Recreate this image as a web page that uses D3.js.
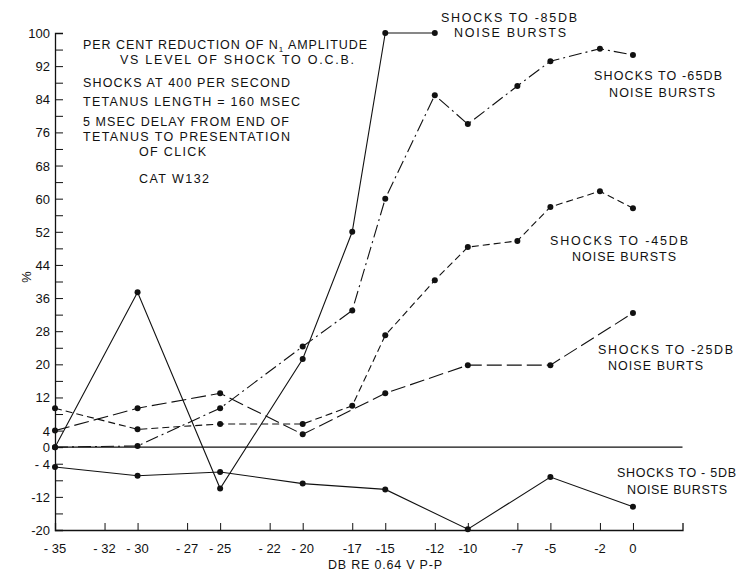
<!DOCTYPE html>
<html><head><meta charset="utf-8">
<script src="https://cdn.jsdelivr.net/npm/d3@7"></script>
<style>body{margin:0;background:#fff}svg{display:block}text{font-family:"Liberation Sans",Arial,sans-serif;fill:#111}</style>
</head><body>
<div id="chart"></div>
<script>
// ---- data ----
const xTicks = [-35,-32,-30,-27,-25,-22,-20,-17,-15,-12,-10,-7,-5,-2,0];
const xTickLabels = ["- 35","- 32","- 30","- 27","- 25","- 22","- 20","-17","-15","-12","-10","-7","-5","-2","0"];
const yTicks = [100,92,84,76,68,60,52,44,36,28,20,12,4,0,-4,-12,-20];
const yTickLabels = ["100","92","84","76","68","60","52","44","36","28","20","12","4","0","- 4","-12","-20"];

const x85 = [-35,-30,-25,-20,-17,-15,-12];
const y85 = [0,37.4,-10,21.3,52,100,100];
const x65 = [-35,-30,-25,-20,-17,-15,-12,-10,-7,-5,-2,0];
const y65 = [0,0.3,9.4,24.3,33,60,85,78,87.2,93.2,96.2,94.7];
const x45 = [-35,-30,-25,-20,-17,-15,-12,-10,-7,-5,-2,0];
const y45 = [9.4,4.3,5.6,5.6,10,27,40.3,48.3,49.8,58,61.8,57.7];
const x25 = [-35,-30,-25,-20,-15,-10,-5,0];
const y25 = [4,9.4,13,3.1,13,19.8,19.8,32.4];
const x5 = [-35,-30,-25,-20,-15,-10,-5,0];
const y5 = [-4.8,-6.9,-6,-8.8,-10.2,-19.8,-7.2,-14.4];

const seriesNames = ["-85DB","-65DB","-45DB","-25DB","-5DB"];

const notes = [
  "PER CENT REDUCTION OF N|1| AMPLITUDE",
  "VS LEVEL OF SHOCK TO O.C.B.",
  "SHOCKS AT 400 PER SECOND",
  "TETANUS LENGTH = 160 MSEC",
  "5 MSEC DELAY FROM END OF",
  "TETANUS TO PRESENTATION",
  "OF CLICK",
  "CAT W132"
];
const seriesLabels = [
  ["SHOCKS TO -85DB","NOISE BURSTS"],
  ["SHOCKS TO -65DB","NOISE BURSTS"],
  ["SHOCKS TO -45DB","NOISE BURSTS"],
  ["SHOCKS TO -25DB","NOISE BURTS"],
  ["SHOCKS TO - 5DB","NOISE BURSTS"]
];
const xTitle = "DB RE 0.64 V P-P";
const yTitle = "%";

// ---- layout ----
const W = 737, H = 577;
const svg = d3.select("#chart").append("svg").attr("width",W).attr("height",H);
const x = d3.scaleLinear().domain([-35,3]).range([55,682.5]);
const y = d3.scaleLinear().domain([-20,100]).range([530,33]);
const ink = "#111";

// y axis (ticks every 4, inward)
const yAxis = d3.axisRight(y).tickValues(d3.range(-20,101,4)).tickSize(8).tickFormat("");
const gy = svg.append("g").attr("transform",`translate(${x(-35)},0)`).call(yAxis);
gy.select(".domain").attr("stroke",ink).attr("stroke-width",1.3);
gy.selectAll(".tick line").attr("stroke",ink).attr("stroke-width",1);
svg.append("g").selectAll("text").data(yTicks).join("text")
  .attr("x",50).attr("y",d=>y(d)+5).attr("text-anchor","end")
  .attr("font-size",13).text((d,i)=>yTickLabels[i]);

// x axis (ticks inward)
const xAxis = d3.axisTop(x).tickValues(xTicks).tickSize(7).tickFormat("");
const gx = svg.append("g").attr("transform",`translate(0,${y(-20)})`).call(xAxis);
gx.select(".domain").attr("stroke",ink).attr("stroke-width",1.3);
gx.selectAll(".tick line").attr("stroke",ink).attr("stroke-width",1);
svg.append("g").selectAll("text").data(xTicks).join("text")
  .attr("x",d=>x(d)).attr("y",553).attr("text-anchor","middle")
  .attr("font-size",13).text((d,i)=>xTickLabels[i]);

// zero line
svg.append("line").attr("x1",x(-35)).attr("x2",x(3)).attr("y1",y(0)).attr("y2",y(0))
  .attr("stroke",ink).attr("stroke-width",1.2);

// titles
svg.append("text").attr("x",385).attr("y",569).attr("text-anchor","middle")
  .attr("font-size",12.5).attr("textLength",114).attr("lengthAdjust","spacing").text(xTitle);
svg.append("text").attr("transform","translate(22,277) rotate(90)").attr("text-anchor","middle")
  .attr("font-size",13).text(yTitle);

// series
const series = [
  {xs:x85, ys:y85, dash:null},
  {xs:x65, ys:y65, dash:"13,4,2,4"},
  {xs:x45, ys:y45, dash:"7,4"},
  {xs:x25, ys:y25, dash:"15,5"},
  {xs:x5,  ys:y5,  dash:null}
];
const line = d3.line().x(d=>x(d[0])).y(d=>y(d[1]));
series.forEach((s,i)=>{
  const pts = s.xs.map((v,j)=>[v,s.ys[j]]);
  svg.append("path").datum(pts).attr("d",line).attr("fill","none")
    .attr("stroke",ink).attr("stroke-width",1.1)
    .attr("stroke-dasharray",s.dash);
  svg.append("g").selectAll("circle").data(pts).join("circle")
    .attr("cx",d=>x(d[0])).attr("cy",d=>y(d[1])).attr("r",3).attr("fill",ink);
});

// annotation block
const noteLayout = [
  {x:83,y:49,w:284},{x:120,y:64,w:234},{x:83,y:87,w:207},{x:83,y:106,w:217},
  {x:83,y:126,w:206},{x:83,y:141,w:207},{x:139,y:156,w:67},{x:139,y:183,w:70}
];
notes.forEach((t,i)=>{
  const L = noteLayout[i];
  const tx = svg.append("text").attr("x",L.x).attr("y",L.y).attr("font-size",12.5)
    .attr("textLength",L.w).attr("lengthAdjust","spacing");
  const parts = t.split("|");
  parts.forEach((p,k)=>{
    const ts = tx.append("tspan").text(p);
    if(k===1){ ts.attr("font-size",8).attr("dy",3); }
    if(k===2){ ts.attr("dy",-3); }
  });
});

// series labels
const labLayout = [
  [{x:441,y:22,w:136},{x:454,y:37,w:112}],
  [{x:594,y:80,w:128},{x:609,y:97,w:106}],
  [{x:550,y:245,w:138},{x:572,y:261,w:104}],
  [{x:598,y:354,w:135},{x:608,y:370,w:95}],
  [{x:617,y:477,w:119},{x:627,y:494,w:100}]
];
seriesLabels.forEach((pair,i)=>{
  pair.forEach((t,k)=>{
    const L = labLayout[i][k];
    svg.append("text").attr("x",L.x).attr("y",L.y).attr("font-size",12.5)
      .attr("textLength",L.w).attr("lengthAdjust","spacing").text(t);
  });
});
</script>
</body></html>
